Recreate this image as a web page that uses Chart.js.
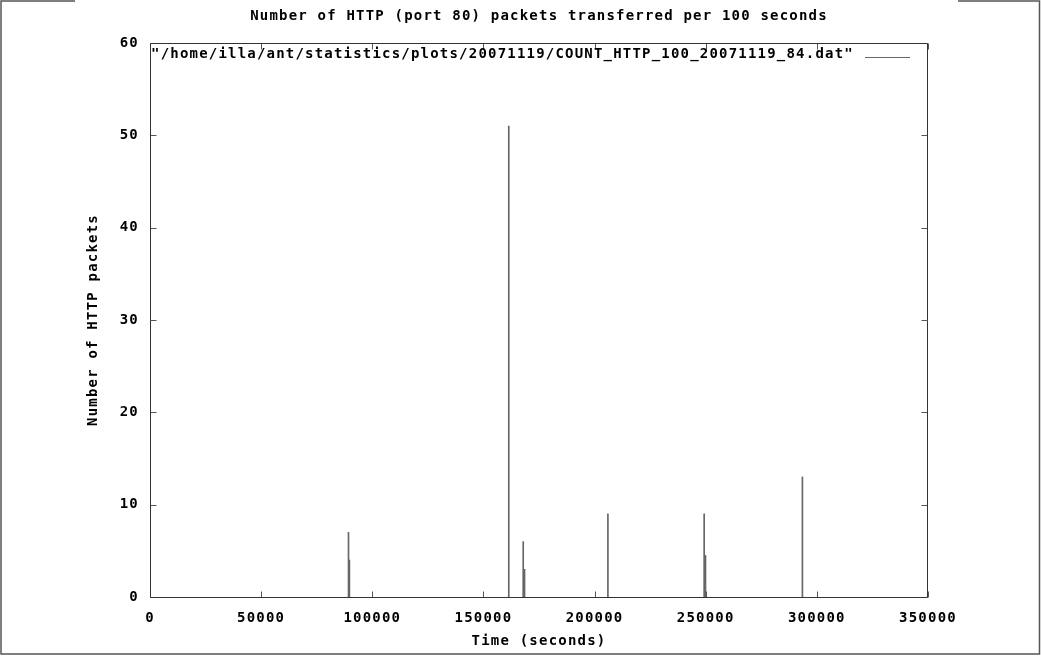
<!DOCTYPE html>
<html>
<head>
<meta charset="utf-8">
<script src="https://cdn.jsdelivr.net/npm/chart.js@4/dist/chart.umd.min.js"></script>
<style>
  html, body { margin: 0; padding: 0; background: #fff; overflow: hidden; }
  canvas { display: block; }
</style>
</head>
<body>
<canvas id="c" width="1041" height="656"></canvas>
<script>
// Texts
const chartTitle = 'Number of HTTP (port 80) packets transferred per 100 seconds';
const seriesLabel = '"/home/illa/ant/statistics/plots/20071119/COUNT_HTTP_100_20071119_84.dat"';
const xTitle = 'Time (seconds)';
const yTitle = 'Number of HTTP packets';

// Non-empty 100 s bins: start time (s) and packet count
const timeSeconds  = [89300, 89700, 161400, 167900, 168500, 206000, 249300, 249900, 293500];
const packetCounts = [7, 4, 51, 6, 3, 9, 9, 4.5, 13];

// Axis ticks
const xTicks = [0, 50000, 100000, 150000, 200000, 250000, 300000, 350000];
const yTicks = [0, 10, 20, 30, 40, 50, 60];

const FONT = { family: "'DejaVu Sans Mono', 'Liberation Mono', monospace", size: 14, weight: 'bold' };
const SPACING = '1.2px';

Chart.defaults.font = FONT;
Chart.defaults.color = '#000';

// Wide lettering, inward tick marks, framed plot box and a line-sample key
const gnuplotLook = {
  id: 'gnuplotLook',
  beforeUpdate(chart) { chart.ctx.letterSpacing = SPACING; },
  beforeLayout(chart) { chart.ctx.letterSpacing = SPACING; },
  beforeDraw(chart) {
    const c = chart.ctx;
    c.save();
    c.letterSpacing = SPACING;
    c.beginPath();
    c.rect(0, 0, 957, chart.height);
    c.clip();
  },
  afterDatasetsDraw(chart) {
    const c = chart.ctx;
    const a = chart.chartArea;
    const xs = chart.scales.x, ys = chart.scales.y;
    const L = Math.round(a.left) + 0.5, R = Math.round(a.right) - 0.5;
    const T = Math.round(a.top) + 0.5, B = Math.round(a.bottom) + 0.5;
    c.save();
    c.lineWidth = 1;
    c.strokeStyle = '#555';
    c.beginPath();
    xTicks.forEach(v => {
      const px = Math.round(xs.getPixelForValue(v)) + 0.5;
      c.moveTo(px, B); c.lineTo(px, B - 6);
      c.moveTo(px, T); c.lineTo(px, T + 6);
    });
    yTicks.forEach(v => {
      const py = Math.round(ys.getPixelForValue(v)) + 0.5;
      c.moveTo(L, py); c.lineTo(L + 6, py);
      c.moveTo(R, py); c.lineTo(R - 6, py);
    });
    c.stroke();

    // plot frame
    c.strokeStyle = '#333';
    c.beginPath();
    c.moveTo(L, T); c.lineTo(R, T);
    c.moveTo(R, T); c.lineTo(R, B);
    c.moveTo(R, B); c.lineTo(L, B);
    c.moveTo(L, B); c.lineTo(L, T);
    c.stroke();

    // key
    c.font = `${FONT.weight} ${FONT.size}px ${FONT.family}`;
    c.fillStyle = '#000';
    c.textAlign = 'left';
    c.textBaseline = 'alphabetic';
    c.fillText(seriesLabel, a.left + 1, 58);
    c.strokeStyle = '#666';
    c.beginPath();
    c.moveTo(865, 57.5); c.lineTo(910, 57.5);
    c.stroke();
    c.restore();
  },
  afterDraw(chart) {
    const c = chart.ctx;
    c.restore();
    // outer frame
    c.save();
    c.strokeStyle = '#555';
    c.lineWidth = 1.5;
    c.beginPath();
    c.moveTo(75, 1); c.lineTo(1, 1); c.lineTo(1, 654); c.lineTo(1039.5, 654); c.lineTo(1039.5, 1); c.lineTo(958, 1);
    c.stroke();
    c.restore();
  }
};

new Chart(document.getElementById('c'), {
  type: 'bar',
  data: {
    datasets: [{
      label: seriesLabel,
      data: timeSeconds.map((t, i) => ({ x: t, y: packetCounts[i] })),
      backgroundColor: '#666',
      borderWidth: 0,
      barThickness: 1
    }]
  },
  options: {
    responsive: false,
    animation: false,
    devicePixelRatio: 1,
    layout: { padding: { left: 0, right: 113, top: 0, bottom: 0 } },
    plugins: {
      legend: { display: false },
      tooltip: { enabled: false },
      title: {
        display: true,
        text: chartTitle,
        fullSize: false,
        color: '#000',
        font: FONT,
        padding: { top: 8, bottom: 18.2 }
      }
    },
    scales: {
      x: {
        type: 'linear',
        min: 0,
        max: 350000,
        offset: false,
        afterBuildTicks: s => { s.ticks = xTicks.map(v => ({ value: v })); },
        afterFit: s => { s.height = 59; },
        grid: { display: false, drawTicks: false, offset: false },
        border: { display: false },
        ticks: { padding: 13, maxRotation: 0, autoSkip: false, color: '#000', font: FONT,
                 callback: v => String(v) },
        title: { display: true, text: xTitle, color: '#000', font: FONT, padding: { top: 0, bottom: 6 } }
      },
      y: {
        min: 0,
        max: 60,
        afterBuildTicks: s => { s.ticks = yTicks.map(v => ({ value: v })); },
        afterFit: s => { s.width = 150; },
        grid: { display: false, drawTicks: false },
        border: { display: false },
        ticks: { padding: 11, color: '#000', font: FONT, callback: v => String(v) },
        title: { display: true, text: yTitle, color: '#000', font: FONT, padding: { top: 85, bottom: 0 } }
      }
    }
  },
  plugins: [gnuplotLook]
});
</script>
</body>
</html>
